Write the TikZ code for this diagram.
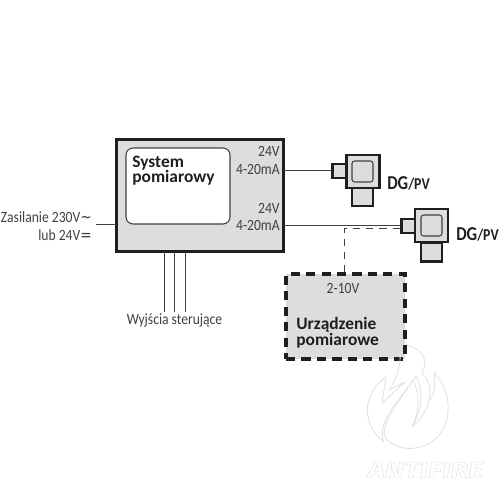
\documentclass[tikz,border=0pt]{standalone}
\usepackage{fontspec}
\setmainfont{Carlito}
\newfontfamily\symfont{DejaVu Sans}
\newfontfamily\wmfont{Fira Sans}
\definecolor{panel}{HTML}{DCDDDE}
\definecolor{ink}{HTML}{1F1F1F}
\definecolor{wm}{HTML}{E2E2E2}
\tikzset{
 wire/.style={draw=ink!85,line width=0.45pt},
 heavy/.style={draw=ink,line width=1.7pt,fill=panel,inner sep=0pt},
 txt/.style={font=\fontsize{8.9}{9}\selectfont,text=ink!85,inner sep=0pt,xscale=0.87},
 bold/.style={font=\fontsize{9.9}{8.8}\selectfont\bfseries,text=ink,inner sep=0pt,align=left},
 dglabel/.style={inner sep=0pt,text=ink,xscale=0.84},
 sensorbox/.style={draw=ink,line width=1.5pt,fill=panel,inner sep=0pt},
 sensorinner/.style={draw=ink!85,line width=0.6pt,rounded corners=1.5pt,fill=panel,inner sep=0pt},
 flame/.style={draw=wm,line width=0.5pt,line join=round}
}
\newcommand{\dgpv}{{\fontsize{11.2}{11}\selectfont\bfseries DG}{\fontsize{9.4}{11}\selectfont\bfseries/PV}}
\begin{document}
\begin{tikzpicture}[x=0.02cm,y=-0.02cm]
\useasboundingbox (0,0) rectangle (500,500);
% main box
\node[heavy,minimum width=3.36cm,minimum height=2.26cm] (mainb) at (200,195.5) {};
\node[draw=ink!85,line width=0.6pt,fill=white,rounded corners=4pt,minimum width=2.08cm,minimum height=1.52cm,inner sep=0pt] (scr) at (178,186) {};
\coordinate (p1) at (284,170);
\coordinate (p2) at (284,225);
\coordinate (p0) at (116,224);
\coordinate (l0) at (96,224);
\foreach \x/\n in {164/a,174.5/b,185/c}{
  \coordinate (t\n) at (\x,252);
  \coordinate (e\n) at (\x,312);
  \draw[wire] (t\n) -- (e\n);
}
\draw[wire] (l0) -- (p0);
\node[bold,anchor=north west] (sys) at (132,155.5) {System\\pomiarowy};
\node[txt,anchor=east] (v1) at (280,151) {24V};
\node[txt,anchor=east] (m1) at (280,169) {4-20mA};
\node[txt,anchor=east] (v2) at (280,208) {24V};
\node[txt,anchor=east] (m2) at (280,225.5) {4-20mA};
\node[txt,anchor=east] (zas) at (92,217) {Zasilanie 230V{\symfont∼}};
\node[txt,anchor=east] (lub) at (92,235) {lub 24V{\symfont=}};
\node[txt] (wyj) at (174.5,320) {Wyjścia sterujące};
% sensor 1
\node[sensorbox,minimum width=0.3cm,minimum height=0.28cm] (n1) at (340,171) {};
\node[sensorbox,minimum width=0.42cm,minimum height=0.36cm] (b1) at (362.5,197) {};
\node[sensorbox,minimum width=0.66cm,minimum height=0.66cm] (s1) at (363,171.5) {};
\node[sensorinner,minimum width=0.42cm,minimum height=0.42cm] (i1) at (362.5,171.5) {};
\draw[wire] (p1) -- (n1.west |- p1);
\node[dglabel,anchor=west] (d1) at (387,183) {\dgpv};
% sensor 2
\node[sensorbox,minimum width=0.3cm,minimum height=0.28cm] (n2) at (409,226) {};
\node[sensorbox,minimum width=0.42cm,minimum height=0.38cm] (b2) at (431.5,252) {};
\node[sensorbox,minimum width=0.66cm,minimum height=0.66cm] (s2) at (431.5,225.5) {};
\node[sensorinner,minimum width=0.42cm,minimum height=0.42cm] (i2) at (431.5,225.5) {};
\draw[wire] (p2) -- (n2.west |- p2);
\node[dglabel,anchor=west] (d2) at (456,234) {\dgpv};
% device
\node[draw=ink,line width=1.8pt,dash pattern=on 5.2pt off 3.6pt,fill=panel,minimum width=2.38cm,minimum height=1.7cm,inner sep=0pt] (dev) at (345.5,316.5) {};
\coordinate (c1) at (344,228);
\draw[wire,line width=0.55pt,dash pattern=on 4.2pt off 3.4pt] (n2.west |- c1) -- (c1) -- (c1 |- dev.north);
\node[txt] (ten) at (343,288) {2-10V};
\node[bold,anchor=north west] (urz) at (296,317) {Urządzenie\\pomiarowe};
% watermark
\draw[flame] (384,442) .. controls (362,425) and (361,395) .. (386,377) -- (382,403) -- (405,382) -- (389,390)
  .. controls (402,370) and (402,355) .. (397,340) .. controls (410,346) and (420,350) .. (422,354)
  .. controls (428,365) and (423,368) .. (422,373) .. controls (435,385) and (432,410) .. (412,427)
  .. controls (422,410) and (424,392) .. (416,376) .. controls (405,395) and (375,420) .. (384,442);
\draw[flame] (434,372) .. controls (455,395) and (452,430) .. (430,443) .. controls (412,453) and (392,448) .. (385,437)
  .. controls (380,425) and (400,400) .. (413,380) .. controls (420,395) and (420,410) .. (412,427);
\draw[flame] (434,372) .. controls (436,385) and (434,395) .. (430,400);
\node[inner sep=0pt,text=wm,font=\wmfont\bfseries\itshape\fontsize{13}{13}\selectfont,xscale=1.28] (wmk) at (425.5,470) {\special{pdf:code 1 Tr 0.25 w}ANTIFIRE\special{pdf:code 0 Tr}};
\end{tikzpicture}
\end{document}
